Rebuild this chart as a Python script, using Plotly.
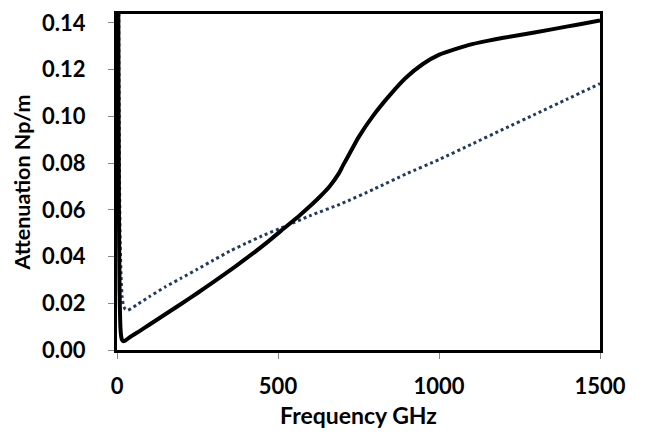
import plotly.graph_objects as go

# Solid curve (black)
freq_solid = [1, 2, 3, 4, 6, 8, 10, 12, 15, 19, 25, 40, 70, 100, 150, 200, 250, 300, 366,
              420, 470, 518, 567, 598, 630, 660, 690, 702, 722, 750, 794, 850, 898, 950,
              1001, 1063, 1094, 1150, 1200, 1301, 1400, 1450, 1500]
atten_solid = [1.2, 0.6, 0.3, 0.15, 0.06, 0.025, 0.012, 0.0070, 0.0045, 0.0038, 0.0040, 0.0055,
               0.0081, 0.0108, 0.0153, 0.0198, 0.0244, 0.0292, 0.0356, 0.0411, 0.0465, 0.0520,
               0.0576, 0.0614, 0.0656, 0.0700, 0.0758, 0.0790, 0.0840, 0.0910, 0.1000, 0.1095,
               0.1166, 0.1224, 0.1264, 0.1293, 0.1306, 0.1323, 0.1336, 0.1360, 0.1385, 0.1397,
               0.1410]

# Dotted curve (navy)
freq_dot = [1, 2, 3, 4, 6, 8, 10, 13, 16, 20, 25, 33, 60, 100, 150, 200, 250, 300, 350, 400,
            450, 518, 600, 700, 800, 900, 1000, 1100, 1200, 1300, 1400, 1500]
atten_dot = [1.5, 0.8, 0.4, 0.25, 0.12, 0.07, 0.045, 0.030, 0.0225, 0.019, 0.0176, 0.0170,
             0.0192, 0.0228, 0.0270, 0.0308, 0.0346, 0.0385, 0.0423, 0.0456, 0.0488, 0.0527,
             0.0575, 0.0628, 0.0690, 0.0755, 0.0815, 0.0880, 0.0945, 0.1010, 0.1075, 0.1140]

x_ticks = [0, 500, 1000, 1500]
y_ticks = [0.00, 0.02, 0.04, 0.06, 0.08, 0.10, 0.12, 0.14]
y_tick_labels = ["0.00", "0.02", "0.04", "0.06", "0.08", "0.10", "0.12", "0.14"]

FONT = "Lato"

fig = go.Figure()
fig.add_trace(go.Scatter(x=freq_dot, y=atten_dot, mode="lines",
                         line=dict(color="#1F3B63", width=3, dash="dot", shape="spline", smoothing=0.5),
                         showlegend=False))
fig.add_trace(go.Scatter(x=freq_solid, y=atten_solid, mode="lines",
                         line=dict(color="black", width=4, shape="spline", smoothing=0.5),
                         showlegend=False))

fig.update_layout(
    width=645, height=434,
    margin=dict(l=109, r=53, t=6, b=92),
    paper_bgcolor="white", plot_bgcolor="white",
    font=dict(family=FONT, color="black"),
    xaxis=dict(range=[0, 1500], tickvals=x_ticks, ticktext=[str(v) for v in x_ticks],
               showgrid=False, zeroline=False, automargin=False,
               showline=True, linecolor="black", linewidth=3, mirror=True,
               ticks="outside", ticklen=6, tickwidth=1, tickcolor="#888888",
               ticklabelstandoff=9,
               tickfont=dict(family=FONT, size=22, color="black", weight="bold"),
               title=dict(text="Frequency GHz", font=dict(family=FONT, size=23, color="black", weight="bold"),
                          standoff=10)),
    yaxis=dict(range=[0, 0.1438], tickvals=y_ticks, ticktext=y_tick_labels,
               showgrid=False, zeroline=False, automargin=False,
               showline=True, linecolor="black", linewidth=3, mirror=True,
               ticks="outside", ticklen=6, tickwidth=1, tickcolor="#888888",
               ticklabelstandoff=18, ticklabeloverflow="allow",
               tickfont=dict(family=FONT, size=22, color="black", weight="bold"),
               title=dict(text="Attenuation Np/m", font=dict(family=FONT, size=21.5, color="black", weight="bold"),
                          standoff=6)),
)

fig.write_html("out.html")
